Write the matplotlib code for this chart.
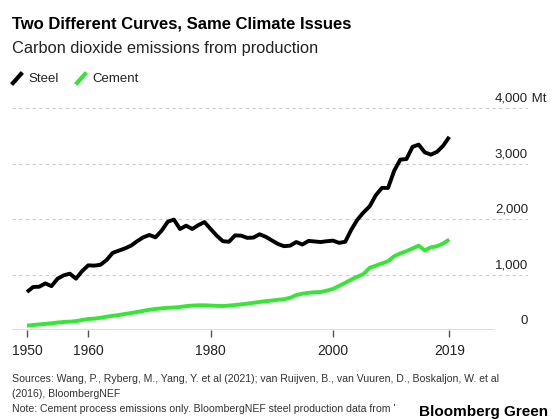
import numpy as np
import matplotlib.pyplot as plt
from matplotlib.lines import Line2D

plt.rcParams['font.family'] = ['Liberation Sans', 'DejaVu Sans']

# datos (Mt de CO2)
years = np.arange(1950, 2020)
steel = [685, 775, 780, 840, 790, 925, 985, 1015, 925, 1060,
         1165, 1160, 1175, 1260, 1390, 1430, 1470, 1520, 1600, 1670,
         1712, 1670, 1790, 1950, 1990, 1820, 1880, 1820, 1890, 1945,
         1820, 1700, 1600, 1590, 1705, 1700, 1660, 1665, 1725, 1680,
         1615, 1550, 1510, 1520, 1585, 1540, 1605, 1595, 1585, 1600,
         1610, 1570, 1590, 1810, 1990, 2120, 2230, 2430, 2560, 2560,
         2870, 3070, 3080, 3300, 3340, 3200, 3160, 3210, 3320, 3480]
cement = [78, 90, 100, 110, 120, 135, 145, 150, 160, 180,
          198, 205, 220, 240, 255, 270, 290, 306, 325, 345,
          365, 380, 390, 400, 405, 415, 430, 440, 445, 445,
          440, 435, 432, 440, 450, 462, 475, 490, 505, 520,
          530, 545, 555, 580, 630, 655, 670, 680, 684, 710,
          740, 795, 850, 910, 960, 1010, 1120, 1160, 1200, 1240,
          1330, 1380, 1420, 1470, 1520, 1435, 1490, 1510, 1560, 1630]
xticks = [1950, 1960, 1980, 2000, 2019]
yticks = [0, 1000, 2000, 3000, 4000]
ylabels = ['0', '1,000', '2,000', '3,000', '4,000']

W, H = 560, 419
fig = plt.figure(figsize=(W / 100, H / 100), dpi=100)

def fx(px):
    return px / W

def fy(py):
    return 1 - py / H

green = '#35e635'

# ejes: izquierda 12px, derecha 528px, arriba 100px, abajo 330px
ax = fig.add_axes([fx(12), fy(330), fx(528 - 12), (330 - 100) / H])
x0 = 1950 - 15 / 6.12
x1 = 1950 + 501 / 6.12
ax.set_xlim(x0, x1)
ax.set_ylim(0, 4000 + 8 / 55.5 * 1000)

for v in yticks[1:]:
    ax.axhline(v, color='#cccccc', lw=0.8, ls=(0, (3, 3)), zorder=0)
ax.axhline(0, xmin=0, xmax=(493 - 12) / (528 - 12), color='#555555', lw=1.0, zorder=1)

ax.plot(years, cement, color=green, lw=2.8, solid_capstyle='butt', zorder=3)
ax.plot(years, steel, color='black', lw=2.8, solid_capstyle='butt', zorder=4)

for s in ax.spines.values():
    s.set_visible(False)
ax.set_yticks([])
ax.set_xticks(xticks)
ax.set_xticklabels([str(t) for t in xticks], fontsize=10, color='#222222')
ax.tick_params(axis='x', length=5, width=1, color='#555555', pad=5)
ax.patch.set_alpha(0)

trans = ax.get_yaxis_transform()
for v, lab in zip(yticks, ylabels):
    ax.text(1.0, v + 110, lab, transform=trans, ha='right', va='baseline',
            fontsize=9.5, color='#222222')
ax.text(1.0, 4110, ' Mt', transform=trans, ha='left', va='baseline',
        fontsize=9.5, color='#222222')

# titulos
fig.text(fx(12), fy(24), 'Two Different Curves, Same Climate Issues',
         fontsize=12, fontweight='bold', va='center', ha='left')
fig.text(fx(12), fy(48), 'Carbon dioxide emissions from production',
         fontsize=11.8, va='center', ha='left', color='#222222')

# leyenda
fig.add_artist(Line2D([fx(13), fx(21)], [fy(83), fy(74)], color='black', lw=3,
                      transform=fig.transFigure))
fig.text(fx(28), fy(79), 'Steel', fontsize=9.5, va='center', color='#222222')
fig.add_artist(Line2D([fx(77), fx(85)], [fy(83), fy(74)], color=green, lw=3,
                      transform=fig.transFigure))
fig.text(fx(92), fy(79), 'Cement', fontsize=9.5, va='center', color='#222222')

# fuentes
src = ('Sources: Wang, P., Ryberg, M., Yang, Y. et al (2021); van Ruijven, B., '
       'van Vuuren, D., Boskaljon, W. et al\n(2016), BloombergNEF\n'
       'Note: Cement process emissions only. BloombergNEF steel production data from \'')
fig.text(fx(12), fy(374), src, fontsize=7.6, va='top', ha='left',
         color='#333333', linespacing=1.65)
fig.text(fx(548), fy(412), 'Bloomberg Green', fontsize=11, fontweight='bold',
         va='center', ha='right', color='black',
         bbox=dict(facecolor='white', edgecolor='none', pad=1))

fig.savefig('out.png', dpi=100)
